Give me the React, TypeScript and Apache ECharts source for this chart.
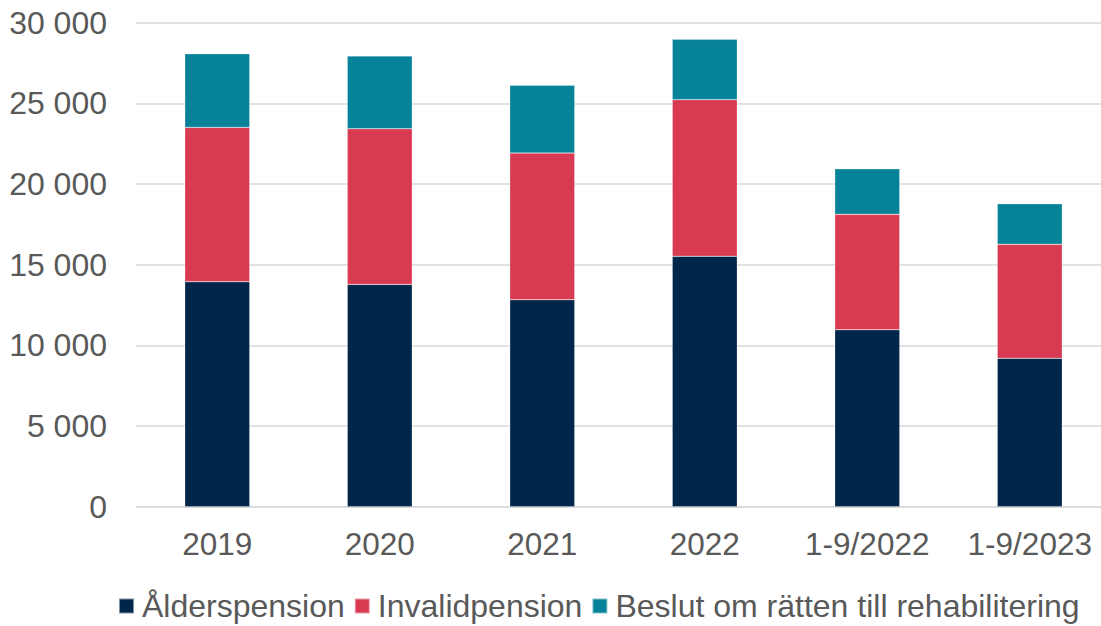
import React, { useEffect, useRef } from "react";
import * as echarts from "echarts";

const categories = ["2019", "2020", "2021", "2022", "1-9/2022", "1-9/2023"];
const alderspension = [13950, 13780, 12830, 15520, 10970, 9200];
const invalidpension = [9560, 9650, 9090, 9710, 7150, 7060];
const rehabilitering = [4570, 4510, 4200, 3740, 2830, 2520];
const seriesNames = ["Ålderspension", "Invalidpension", "Beslut om rätten till rehabilitering"];
const yTicks = { min: 0, max: 30000, interval: 5000 };

const FONT = "'Liberation Sans', Arial, sans-serif";
const GRAY = "#595959";

export default function App() {
  const ref = useRef<HTMLDivElement>(null);
  useEffect(() => {
    if (!ref.current) return;
    const chart = echarts.init(ref.current, undefined, { renderer: "svg" });
    const fmt = (v: number) => String(v).replace(/\B(?=(\d{3})+(?!\d))/g, " ");
    const mk = (name: string, data: number[], color: string) => ({
      name,
      type: "bar",
      stack: "total",
      data,
      barWidth: 65,
      itemStyle: { color, borderColor: "rgba(255,255,255,0.5)", borderWidth: 0.5 },
    });
    chart.setOption({
      animation: false,
      textStyle: { fontFamily: FONT },
      grid: { left: 136, top: 22.7, width: 975, bottom: 119.3, containLabel: false },
      legend: {
        left: 113,
        top: 585,
        padding: [5, 5, 0, 5],
        itemWidth: 15,
        itemHeight: 15,
        itemGap: 9,
        icon: "rect",
        textStyle: {
          fontSize: 32,
          lineHeight: 32,
          color: GRAY,
          fontFamily: FONT,
          padding: [0, 0, 0, 3],
        },
        data: seriesNames,
      },
      xAxis: {
        type: "category",
        data: categories,
        axisLine: { show: true, lineStyle: { color: "#d9d9d9", width: 1.5 } },
        axisTick: { show: false },
        axisLabel: { fontSize: 31.5, color: GRAY, margin: 21, fontFamily: FONT, interval: 0 },
      },
      yAxis: {
        type: "value",
        min: yTicks.min,
        max: yTicks.max,
        interval: yTicks.interval,
        axisLine: { show: false },
        axisTick: { show: false },
        splitLine: { lineStyle: { color: "#d9d9d9", width: 1.5 } },
        axisLabel: { fontSize: 32, color: GRAY, margin: 29, fontFamily: FONT, formatter: fmt },
      },
      series: [
        mk(seriesNames[0], alderspension, "#00264a"),
        mk(seriesNames[1], invalidpension, "#d83a52"),
        mk(seriesNames[2], rehabilitering, "#078399"),
      ],
    });
    return () => chart.dispose();
  }, []);
  return (
    <div
      ref={ref}
      style={{ position: "fixed", left: 0, top: 0, width: 1120, height: 626, background: "#ffffff" }}
    />
  );
}
